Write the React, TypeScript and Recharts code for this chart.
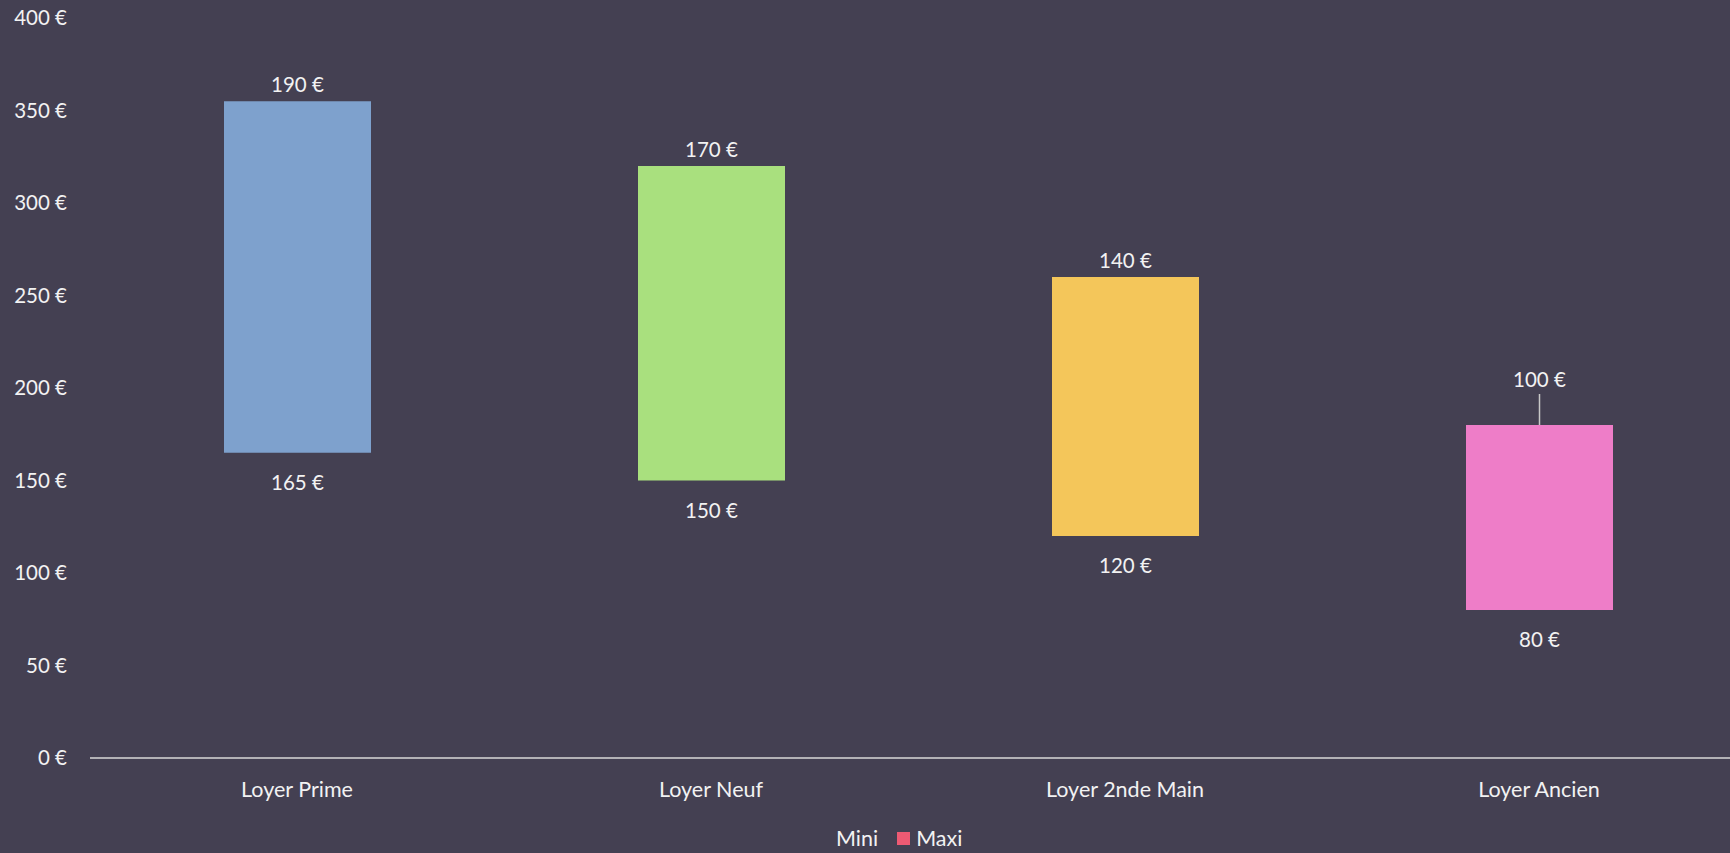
import { BarChart, Bar, XAxis, YAxis, Cell, LabelList } from "recharts";

const categories = ["Loyer Prime", "Loyer Neuf", "Loyer 2nde Main", "Loyer Ancien"];
const miniValues = [165, 150, 120, 80];
const maxiValues = [190, 170, 140, 100];
const yTicks = [0, 50, 100, 150, 200, 250, 300, 350, 400];

const data = categories.map((name, i) => ({
  name,
  mini: miniValues[i],
  maxi: maxiValues[i],
}));

const barColors = ["#7ea1cd", "#a9e07e", "#f4c65a", "#ee7dc8"];
const BG = "#444052";
const TEXT = "#f2f2f2";
const FONT = "Lato, 'Open Sans', sans-serif";
const NUM_SIZE = 20.5;
const WORD_SIZE = 21.5;

// the last label sits higher, with a leader line down to the bar
const leaderLift: Record<number, number> = { 3: 46 };

const euro = (v: number) => `${v} €`;

const TopLabel = (props: any) => {
  const { x, y, width, value, index } = props;
  const cx = x + width / 2;
  const lift = leaderLift[index];
  if (lift) {
    return (
      <g>
        <line x1={cx} x2={cx} y1={y} y2={y - lift + 15} stroke="#c8c8c8" strokeWidth={1.5} />
        <text x={cx} y={y - lift} textAnchor="middle" dominantBaseline="central" fill={TEXT} fontSize={NUM_SIZE} fontFamily={FONT}>
          {euro(value)}
        </text>
      </g>
    );
  }
  return (
    <text x={cx} y={y - 17} textAnchor="middle" dominantBaseline="central" fill={TEXT} fontSize={NUM_SIZE} fontFamily={FONT}>
      {euro(value)}
    </text>
  );
};

const BottomLabel = (props: any) => {
  const { x, y, width, value } = props;
  return (
    <text x={x + width / 2} y={y + 29} textAnchor="middle" dominantBaseline="central" fill={TEXT} fontSize={NUM_SIZE} fontFamily={FONT}>
      {euro(value)}
    </text>
  );
};

export default function App() {
  return (
    <div
      style={{
        position: "fixed",
        left: 0,
        top: 0,
        width: 1730,
        height: 853,
        overflow: "hidden",
        background: BG,
        fontFamily: FONT,
      }}
    >
      <BarChart
        width={1746}
        height={853}
        data={data}
        margin={{ top: 18, right: 0, left: 0, bottom: 45 }}
      >
        <YAxis
          type="number"
          domain={[0, 400]}
          ticks={yTicks}
          width={90}
          axisLine={false}
          tickLine={false}
          tickSize={0}
          tickMargin={23}
          tickFormatter={euro}
          tick={{ fill: TEXT, fontSize: NUM_SIZE, fontFamily: FONT }}
        />
        <XAxis
          dataKey="name"
          height={50}
          axisLine={{ stroke: "#d9d9d9", strokeWidth: 1.5 }}
          tickLine={false}
          tickSize={0}
          tickMargin={24}
          tick={{ fill: TEXT, fontSize: WORD_SIZE, fontFamily: FONT }}
        />
        <Bar dataKey="mini" stackId="a" fill="transparent" barSize={147} isAnimationActive={false}>
          <LabelList dataKey="mini" content={<BottomLabel />} />
        </Bar>
        <Bar dataKey="maxi" stackId="a" fill="#ee5a73" barSize={147} isAnimationActive={false}>
          {data.map((_, i) => (
            <Cell key={i} fill={barColors[i]} />
          ))}
          <LabelList dataKey="maxi" content={<TopLabel />} />
        </Bar>
      </BarChart>
      <div
        style={{
          position: "absolute",
          left: 836,
          top: 826,
          display: "flex",
          alignItems: "center",
          color: TEXT,
          fontSize: WORD_SIZE,
          lineHeight: "24px",
        }}
      >
        <span>Mini</span>
        <span style={{ display: "inline-block", width: 13, height: 13, background: "#ee5a73", marginLeft: 19, marginRight: 6 }} />
        <span>Maxi</span>
      </div>
    </div>
  );
}
